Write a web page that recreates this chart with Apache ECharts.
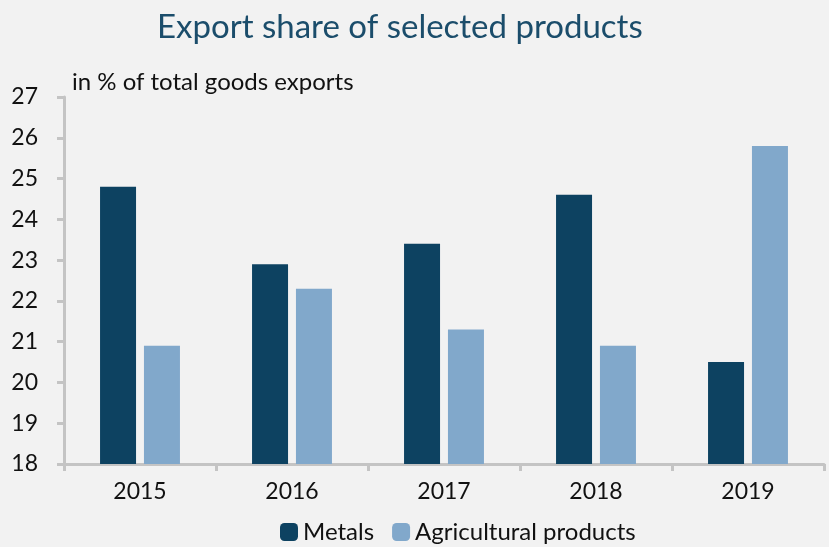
<!DOCTYPE html>
<html>
<head>
<meta charset="utf-8">
<script src="https://cdn.jsdelivr.net/npm/echarts@6/dist/echarts.min.js"></script>
<style>
  html, body { margin: 0; padding: 0; background: #f2f2f2; }
  #chart { width: 829px; height: 547px; }
</style>
</head>
<body>
<div id="chart"></div>
<script>
// Years on the category axis
const years = ['2015', '2016', '2017', '2018', '2019'];
// Share of total goods exports, in %
const metals = [24.8, 22.9, 23.4, 24.6, 20.5];
const agricultural = [20.9, 22.3, 21.3, 20.9, 25.8];
// Value axis range
const yMin = 18;
const yMax = 27;
const yStep = 1;

const font = 'Lato, "Open Sans", sans-serif';
const axisGrey = '#c4c4c4';

const chart = echarts.init(document.getElementById('chart'), null, { renderer: 'canvas' });
chart.setOption({
  backgroundColor: '#f2f2f2',
  animation: false,
  title: {
    text: 'Export share of selected products',
    left: 152,
    top: 6,
    textStyle: { color: '#1b4d6b', fontSize: 33, fontWeight: 'normal', fontFamily: font }
  },
  graphic: [{
    type: 'text',
    left: 72,
    top: 70,
    style: { text: 'in % of total goods exports', fill: '#111', fontSize: 24, fontFamily: font }
  }],
  legend: {
    left: 275,
    bottom: -2,
    itemWidth: 18,
    itemHeight: 18,
    itemGap: 18,
    textStyle: { color: '#111', fontSize: 24, fontFamily: font },
    data: ['Metals', 'Agricultural products']
  },
  grid: { left: 64, right: 5, top: 97, bottom: 83, containLabel: false },
  xAxis: {
    type: 'category',
    data: years,
    axisLine: { lineStyle: { color: axisGrey, width: 3 } },
    axisTick: { show: true, length: 7, lineStyle: { color: axisGrey, width: 3 } },
    axisLabel: { color: '#111', fontSize: 23, fontFamily: font, margin: 16 }
  },
  yAxis: {
    type: 'value',
    min: yMin,
    max: yMax,
    interval: yStep,
    axisLine: { show: true, lineStyle: { color: axisGrey, width: 3 } },
    axisTick: { show: true, length: 7, lineStyle: { color: axisGrey, width: 3 } },
    splitLine: { show: false },
    axisLabel: { color: '#111', fontSize: 23, fontFamily: font, margin: 26 }
  },
  series: [
    {
      name: 'Metals',
      type: 'bar',
      data: metals,
      itemStyle: { color: '#0d4261' },
      barWidth: 36,
      barGap: '22%'
    },
    {
      name: 'Agricultural products',
      type: 'bar',
      data: agricultural,
      itemStyle: { color: '#81a8cb' },
      barWidth: 36,
      barGap: '22%'
    }
  ]
});
</script>
</body>
</html>
